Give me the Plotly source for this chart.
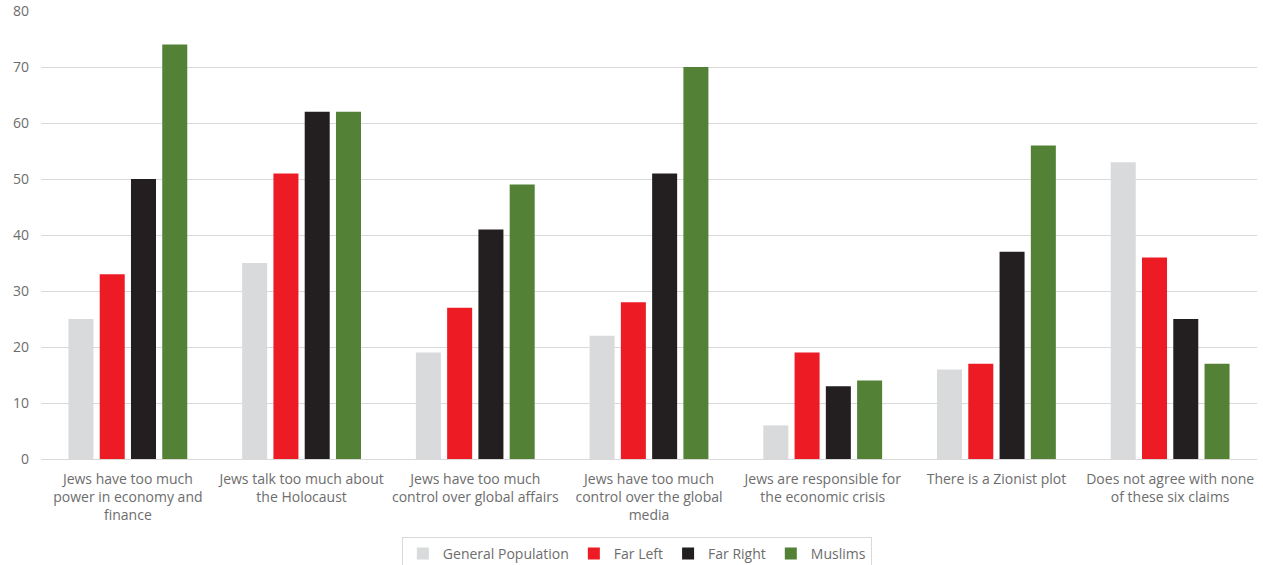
import plotly.graph_objects as go

categories = [
    "Jews have too much<br>power in economy and<br>finance",
    "Jews talk too much about<br>the Holocaust",
    "Jews have too much<br>control over global affairs",
    "Jews have too much<br>control over the global<br>media",
    "Jews are responsible for<br>the economic crisis",
    "There is a Zionist plot",
    "Does not agree with none<br>of these six claims",
]
general_population = [25, 35, 19, 22, 6, 16, 53]
far_left = [33, 51, 27, 28, 19, 17, 36]
far_right = [50, 62, 41, 51, 13, 37, 25]
muslims = [74, 62, 49, 70, 14, 56, 17]

series = [
    ("General Population", general_population, "#D9DADC"),
    ("Far Left", far_left, "#ED1C24"),
    ("Far Right", far_right, "#231F20"),
    ("Muslims", muslims, "#538135"),
]

fig = go.Figure()
for name, vals, color in series:
    fig.add_trace(go.Bar(x=categories, y=vals, name=name, marker_color=color,
                         marker_line_width=0))

fig.update_layout(
    width=1263, height=565,
    margin=dict(l=41, r=6, t=11, b=106, autoexpand=False),
    paper_bgcolor="white", plot_bgcolor="white",
    barmode="group", bargap=0.28, bargroupgap=0.2,
    font=dict(family="Open Sans", size=14, color="#6d6d6d"),
    legend=dict(orientation="h", x=0.49, xanchor="center", y=-0.174, yanchor="top",
                bordercolor="#D9D9D9", borderwidth=1, font=dict(size=14, color="#6d6d6d"),
                itemwidth=30, traceorder="normal"),
    showlegend=True,
)
fig.update_yaxes(range=[0, 80], dtick=10, showgrid=True, gridcolor="#D9D9D9", gridwidth=1,
                 zeroline=True, zerolinecolor="#D9D9D9", zerolinewidth=1, automargin=False,
                 ticks="", ticklabelstandoff=11, tickfont=dict(size=14, color="#6d6d6d"))
fig.update_xaxes(showline=False, ticks="", tickangle=0, automargin=False,
                 ticklabelstandoff=10, tickfont=dict(size=14, color="#6d6d6d"))

fig.write_html("out.html")
